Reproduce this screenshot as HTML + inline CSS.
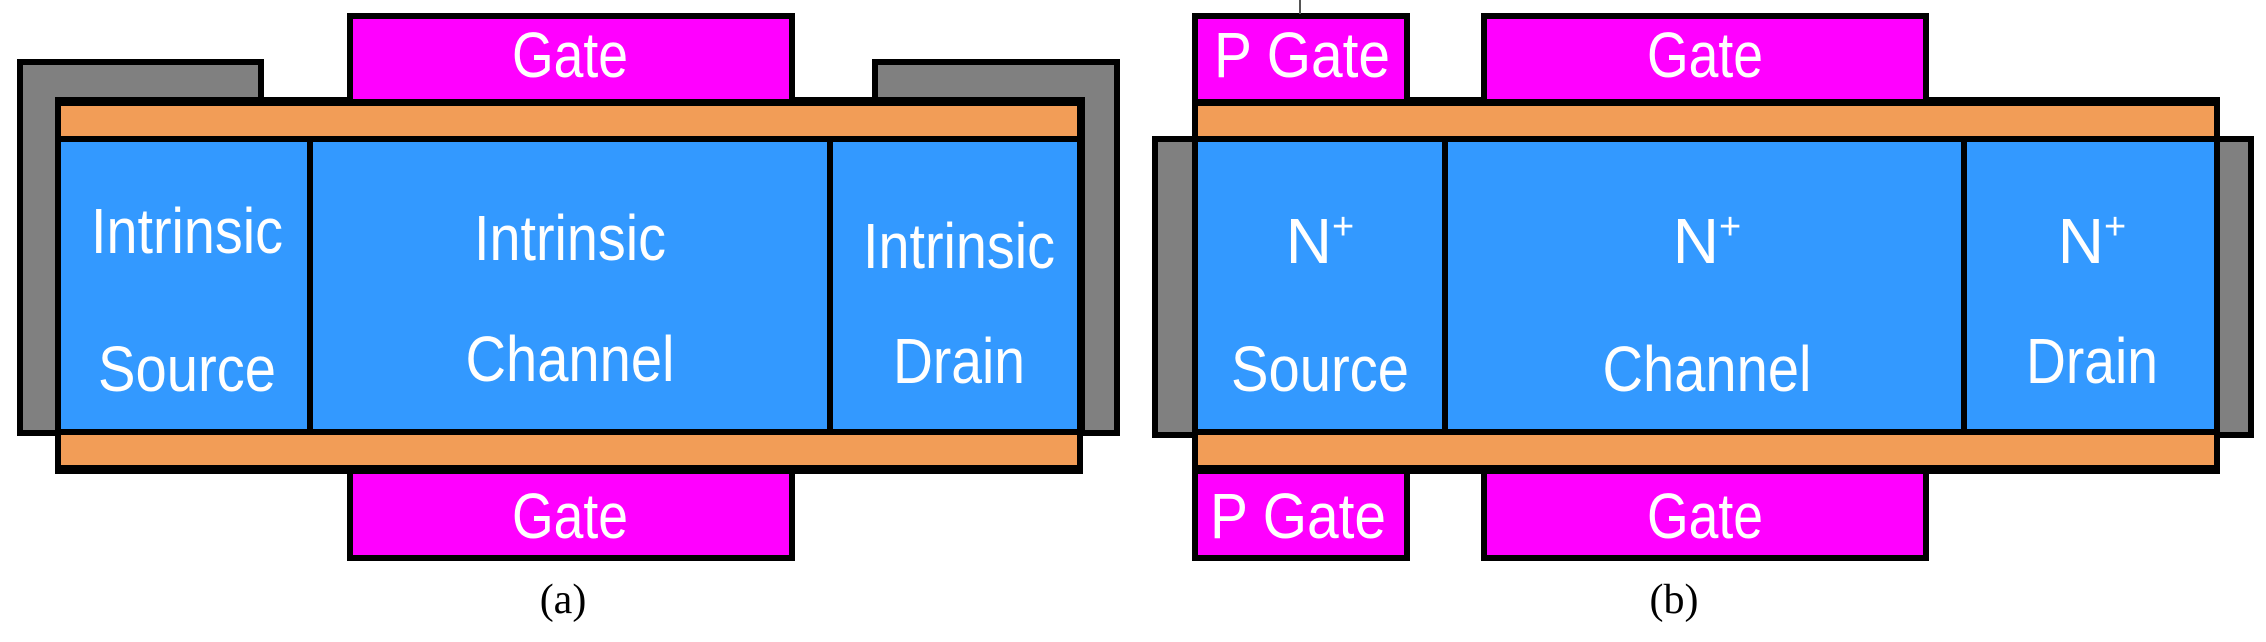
<!DOCTYPE html>
<html><head><meta charset="utf-8"><style>html,body{margin:0;padding:0;background:#fff}</style></head><body>
<svg width="2266" height="637" viewBox="0 0 2266 637" xmlns="http://www.w3.org/2000/svg" font-family="Liberation Sans, Arial, sans-serif">
<g stroke="#000" stroke-width="6">
<path d="M20 62 H261 V100 H60 V433 H20 Z" fill="#808080"/>
<path d="M875 62 H1117 V433 H1082 V100 H875 Z" fill="#808080"/>
<rect x="58" y="100" width="1022" height="371" fill="#3399FF"/>
<rect x="58" y="103" width="1022" height="36" fill="#F29D57"/>
<rect x="58" y="432" width="1022" height="36" fill="#F29D57"/>
<line x1="310" y1="139" x2="310" y2="432"/>
<line x1="830" y1="139" x2="830" y2="432"/>
<rect x="350" y="16" width="442" height="86" fill="#FF00FF"/>
<rect x="350" y="471" width="442" height="87" fill="#FF00FF"/>
<rect x="1155" y="139" width="1096" height="296" fill="#808080"/>
<rect x="1195" y="100" width="1022" height="371" fill="#3399FF"/>
<rect x="1195" y="103" width="1022" height="36" fill="#F29D57"/>
<rect x="1195" y="432" width="1022" height="36" fill="#F29D57"/>
<line x1="1445" y1="139" x2="1445" y2="432"/>
<line x1="1964" y1="139" x2="1964" y2="432"/>
<rect x="1195" y="16" width="212" height="86" fill="#FF00FF"/>
<rect x="1195" y="471" width="212" height="87" fill="#FF00FF"/>
<rect x="1484" y="16" width="442" height="86" fill="#FF00FF"/>
<rect x="1484" y="471" width="442" height="87" fill="#FF00FF"/>
</g>
<line x1="1300" y1="0" x2="1300" y2="14" stroke="#555" stroke-width="2"/>
<g fill="#fff" font-size="64" text-anchor="middle">
<text x="570" y="77" textLength="116" lengthAdjust="spacingAndGlyphs">Gate</text>
<text x="570" y="538" textLength="116" lengthAdjust="spacingAndGlyphs">Gate</text>
<text x="187" y="253" textLength="192" lengthAdjust="spacingAndGlyphs">Intrinsic</text>
<text x="187" y="391" textLength="178" lengthAdjust="spacingAndGlyphs">Source</text>
<text x="570" y="260" textLength="192" lengthAdjust="spacingAndGlyphs">Intrinsic</text>
<text x="570" y="381" textLength="209" lengthAdjust="spacingAndGlyphs">Channel</text>
<text x="959" y="268" textLength="192" lengthAdjust="spacingAndGlyphs">Intrinsic</text>
<text x="959" y="383" textLength="132" lengthAdjust="spacingAndGlyphs">Drain</text>
<text x="1302" y="77" textLength="176" lengthAdjust="spacingAndGlyphs">P Gate</text>
<text x="1298" y="538" textLength="176" lengthAdjust="spacingAndGlyphs">P Gate</text>
<text x="1705" y="77" textLength="116" lengthAdjust="spacingAndGlyphs">Gate</text>
<text x="1705" y="538" textLength="116" lengthAdjust="spacingAndGlyphs">Gate</text>
<text x="1320" y="263">N<tspan font-size="38" dy="-24">+</tspan></text>
<text x="1320" y="391" textLength="178" lengthAdjust="spacingAndGlyphs">Source</text>
<text x="1707" y="263">N<tspan font-size="38" dy="-24">+</tspan></text>
<text x="1707" y="391" textLength="209" lengthAdjust="spacingAndGlyphs">Channel</text>
<text x="2092" y="263">N<tspan font-size="38" dy="-24">+</tspan></text>
<text x="2092" y="383" textLength="132" lengthAdjust="spacingAndGlyphs">Drain</text>
</g>
<g fill="#000" font-family="Liberation Serif, serif" font-size="42" text-anchor="middle">
<text x="563" y="613">(a)</text>
<text x="1674" y="613">(b)</text>
</g>
</svg>
</body></html>
